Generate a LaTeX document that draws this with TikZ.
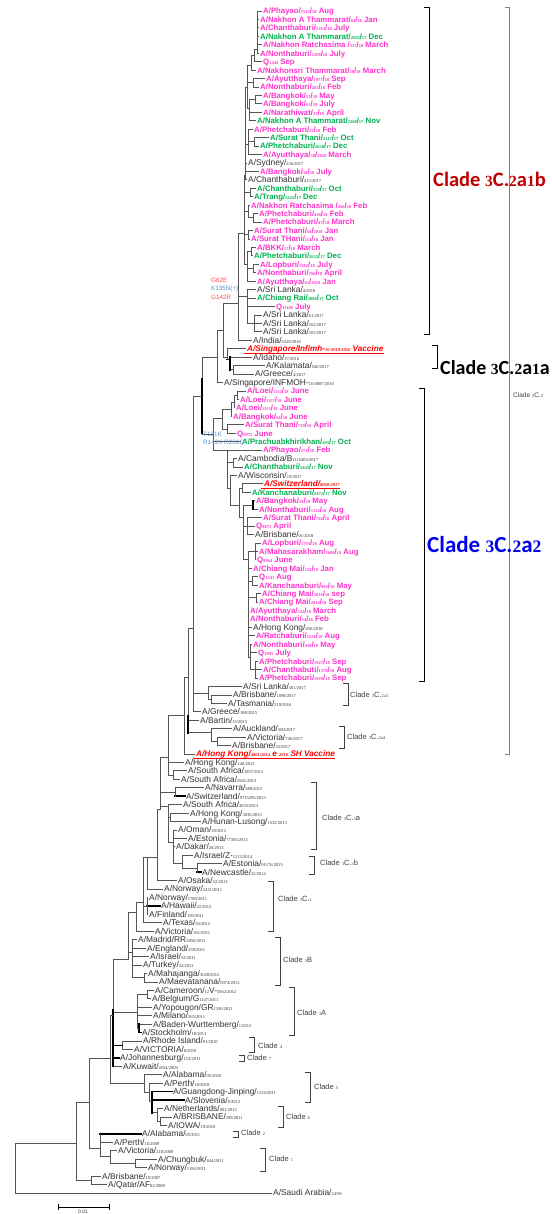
\documentclass[tikz,border=0pt]{standalone}
\usepackage{fontspec}
\setmainfont{Liberation Sans}
\newfontfamily\tnf{Liberation Serif}
\newfontfamily\carl{Carlito}
\newcommand\smn[1]{{\tnf\fontsize{4.5}{5}\selectfont #1}}
\newcommand\bdg[1]{{\tnf\fontsize{15.5}{16}\selectfont #1}}
\newcommand\bdgb[1]{{\tnf\fontsize{17.5}{18}\selectfont #1}}
\definecolor{pinkc}{HTML}{FF33CC}
\definecolor{greenc}{HTML}{00B050}
\definecolor{darkredc}{HTML}{C00000}
\definecolor{bluec}{HTML}{0000F0}
\definecolor{mutred}{HTML}{FF5050}
\definecolor{mutblue}{HTML}{4F94D4}
\definecolor{treeg}{HTML}{555555}
\definecolor{txtg}{HTML}{333333}
\definecolor{cladeg}{HTML}{404040}
\tikzset{
 br/.style={draw=treeg, line width=0.8pt, line cap=rect},
 tb/.style={draw=black, line width=1.5pt, line cap=rect},
 lab/.style={anchor=base west, inner sep=0pt, yshift=-2.9pt},
 mg/.style={lab, text=pinkc, font=\fontsize{7.8}{9}\selectfont\bfseries},
 gn/.style={lab, text=greenc, font=\fontsize{7.8}{9}\selectfont\bfseries},
 bk/.style={lab, text=txtg, font=\fontsize{8.4}{9}\selectfont},
 vc/.style={lab, text=red, font=\fontsize{8.2}{9}\selectfont\bfseries\itshape},
 brk/.style={draw=black, line width=0.9pt},
 brs/.style={draw=cladeg, line width=0.8pt},
 cl/.style={anchor=west, inner sep=0pt, text=cladeg, font=\fontsize{7.5}{9}\selectfont},
 mut/.style={anchor=west, inner sep=0pt, font=\fontsize{6.3}{7}\selectfont},
 big/.style={anchor=west, inner sep=0pt},
}
\newcommand\Lf[6][br]{%
  \coordinate (T#2) at ({#4-1},#2);
  \node[#5] (L#2) at (#4,#2) {#6};
  \draw[#1] (#3,#2) -- (T#2);}
\newcommand\Vl[4][br]{\draw[#1] (#2,#3) -- (#2,#4);}
\newcommand\Hl[4][br]{\draw[#1] (#2,#4) -- (#3,#4);}
\newcommand\Brk[4][brs]{\draw[#1] ({#2-5},#3) -- (#2,#3) -- (#2,#4) -- ({#2-5},#4);}
\begin{document}
\begin{tikzpicture}[x=1pt,y=-8.443pt]
\useasboundingbox[fill=white] (0,-0.3029) rectangle (551,143.483);
% Clade 3C.2 long line
\draw[draw=gray, line width=0.9pt] (505,0.526) -- (509,0.526) -- (509,89.0) -- (505,89.0);
% ---------- leaves ----------
\Lf{1}{257}{263}{mg}{A/Phayao/\smn{1512}/\smn{18} Aug}
\Lf{2}{257}{260}{mg}{A/Nakhon A Thammarat/\smn{64}/\smn{18} Jan}
\Lf{3}{257}{260}{mg}{A/Chanthaburi/\smn{1363}/\smn{18} July}
\Lf{4}{257}{260}{gn}{A/Nakhon A Thammarat/\smn{2626}/\smn{17} Dec}
\Lf{5}{257}{263}{mg}{A/Nakhon Ratchasima /\smn{517}/\smn{18} March}
\Lf{6}{257}{260}{mg}{A/Nonthaburi/\smn{1298}/\smn{18} July}
\Lf{7}{254}{263}{mg}{Q\smn{1444} Sep}
\Lf{8}{251}{257}{mg}{A/Nakhonsri Thammarat/\smn{30}/\smn{18} March}
\Lf{9}{253}{266}{mg}{A/Ayutthaya/\smn{1977}/\smn{18} Sep}
\Lf{10}{253}{260}{mg}{A/Nonthaburi/\smn{283}/\smn{18} Feb}
\Lf{11}{255}{263}{mg}{A/Bangkok/\smn{53}/\smn{18} May}
\Lf{12}{255}{263}{mg}{A/Bangkok/\smn{61}/\smn{18} July}
\Lf{13}{249}{263}{mg}{A/Narathiwat/\smn{32}/\smn{18} April}
\Lf{14}{249}{257}{gn}{A/Nakhon A Thammarat/\smn{2368}/\smn{17} Nov}
\Lf{15}{248}{254}{mg}{A/Phetchaburi/\smn{25}/\smn{18} Feb}
\Lf{16}{254}{270}{gn}{A/Surat Thani/\smn{2117}/\smn{17} Oct}
\Lf{17}{254}{260}{gn}{A/Phetchaburi/\smn{2638}/\smn{17} Dec}
\Lf{18}{248}{263}{mg}{A/Ayutthaya/\smn{58}/\smn{2018} March}
\Lf{19}{245}{248}{bk}{A/Sydney/\smn{236/2017}}
\Lf{20}{245}{260}{mg}{A/Bangkok/\smn{58}/\smn{18} July}
\Lf{21}{245}{248}{bk}{A/Chanthaburi/\smn{415/2017}}
\Lf{22}{250}{257}{gn}{A/Chanthaburi/\smn{559}/\smn{17} Oct}
\Lf{23}{250}{254}{gn}{A/Trang/\smn{2625}/\smn{17} Dec}
\Lf{24}{248}{251}{mg}{A/Nakhon Ratchasima /\smn{260}/\smn{18} Feb}
\Lf{25}{253}{259}{mg}{A/Phetchaburi/\smn{438}/\smn{18} Feb}
\Lf{26}{253}{263}{mg}{A/Phetchaburi/\smn{47}/\smn{18} March}
\Lf{27}{248}{254}{mg}{A/Surat Thani/\smn{68}/\smn{2018} Jan}
\Lf{28}{248}{251}{mg}{A/Surat THani/\smn{114}/\smn{18} Jan}
\Lf{29}{251}{257}{mg}{A/BKK/\smn{17}/\smn{18} March}
\Lf{30}{251}{254}{gn}{A/Phetchaburi/\smn{2632}/\smn{17} Dec}
\Lf{31}{253}{260}{mg}{A/Lopburi/\smn{1282}/\smn{18} July}
\Lf{32}{253}{257}{mg}{A/Nonthaburi/\smn{766}/\smn{18} April}
\Lf{33}{247}{257}{mg}{A/Ayutthaya/\smn{61}/\smn{2018} Jan}
\Lf{34}{247}{257}{bk}{A/Sri Lanka/\smn{4/2018}}
\Lf{35}{247}{257}{gn}{A/Chiang Rai/\smn{2080}/\smn{17} Oct}
\Lf{36}{247}{276}{mg}{Q\smn{11186} July}
\Lf{37}{254}{263}{bk}{A/Sri Lanka/\smn{61/2017}}
\Lf{38}{254}{263}{bk}{A/Sri Lanka/\smn{162/2017}}
\Lf{39}{254}{263}{bk}{A/Sri Lanka/\smn{163/2017}}
\Lf{40}{238}{253}{bk}{A/India/\smn{6329/2016}}
\Lf{41}{227}{247}{vc}{A/Singapore/Infimh-\smn{16-0019/2016} Vaccine}
\Lf{42}{230}{253}{bk}{A/Idaho/\smn{37/2016}}
\Lf{43}{233}{266}{bk}{A/Kalamata/\smn{540/2017}}
\Lf{44}{233}{255}{bk}{A/Greece/\smn{4/2017}}
\Lf{45}{217}{224}{bk}{A/Singapore/INFMOH-\smn{16-0087/2016}}
\Lf{46}{237}{247}{mg}{A/Loei/\smn{1152}/\smn{18} June}
\Lf{47}{237}{240}{mg}{A/Loei/\smn{1157}/\smn{18} June}
\Lf{48}{234}{236}{mg}{A/Loei/\smn{1153}/\smn{18} June}
\Lf{49}{231}{233}{mg}{A/Bangkok/\smn{64}/\smn{18} June}
\Lf{50}{227}{245}{mg}{A/Surat Thani/\smn{729}/\smn{18} April}
\Lf{51}{227}{237}{mg}{Q\smn{8972} June}
\Lf{52}{213}{242}{gn}{A/Prachuabkhirikhan/\smn{493}/\smn{17} Oct}
\Lf{53}{227}{263}{mg}{A/Phayao/\smn{271}/\smn{18} Feb}
\Lf{54}{233}{238}{bk}{A/Cambodia/B\smn{1116403/2017}}
\Lf{55}{233}{244}{gn}{A/Chanthaburi/\smn{2445}/\smn{17} Nov}
\Lf{56}{230}{238}{bk}{A/Wisconsin/\smn{19/2017}}
\Lf{57}{242}{264}{vc}{A/Switzerland/\smn{8060/2017}}
\Lf{58}{242}{252}{gn}{A/Kanchanaburi/\smn{2471}/\smn{17} Nov}
\Lf{59}{253}{256}{mg}{A/Bangkok/\smn{39}/\smn{18} May}
\Lf{60}{253}{259}{mg}{A/Nonthaburi/\smn{1534}/\smn{18} Aug}
\Lf{61}{247}{263}{mg}{A/Surat Thani/\smn{792}/\smn{18} April}
\Lf{62}{247}{256}{mg}{Q\smn{8073} April}
\Lf{63}{247}{255}{bk}{A/Brisbane/\smn{01/2018}}
\Lf{64}{255}{262}{mg}{A/Lopburi/\smn{1793}/\smn{18} Aug}
\Lf{65}{255}{259}{mg}{A/Mahasarakham/\smn{1608}/\smn{18} Aug}
\Lf{66}{255}{257}{mg}{Q\smn{8964} June}
\Lf{67}{248}{253}{mg}{A/Chiang Mai/\smn{122}/\smn{18} Jan}
\Lf{68}{252}{259}{mg}{Q\smn{1241} Aug}
\Lf{69}{252}{259}{mg}{A/Kanchanaburi/\smn{960}/\smn{18} May}
\Lf{70}{256}{262}{mg}{A/Chiang Mai/\smn{2016}/\smn{18} sep}
\Lf{71}{256}{259}{mg}{A/Chiang Mai/\smn{2014}/\smn{18} Sep}
\Lf{72}{248}{250}{mg}{A/Ayutthaya/\smn{532}/\smn{18} March}
\Lf{73}{248}{250}{mg}{A/Nonthaburi/\smn{14}/\smn{18} Feb}
\Lf{74}{248}{253}{bk}{A/Hong Kong/\smn{656/2018}}
\Lf{75}{248}{256}{mg}{A/Ratchaburi/\smn{1528}/\smn{18} Aug}
\Lf{76}{250}{253}{mg}{A/Nonthaburi/\smn{948}/\smn{18} May}
\Lf{77}{250}{258}{mg}{Q\smn{1095} July}
\Lf{78}{255}{259}{mg}{A/Phetchaburi/\smn{1927}/\smn{18} Sep}
\Lf{79}{255}{263}{mg}{A/Chanthabuti/\smn{1579}/\smn{18} Aug}
\Lf{80}{255}{259}{mg}{A/Phetchaburi/\smn{1929}/\smn{18} Sep}
\Lf{81}{208}{243}{bk}{A/Sri Lanka/\smn{301/2017}}
\Lf{82}{211}{233}{bk}{A/Brisbane/\smn{1098/2017}}
\Lf{83}{211}{228}{bk}{A/Tasmania/\smn{219/2016}}
\Lf{84}{193}{202}{bk}{A/Greece/\smn{188/2015}}
\Lf{85}{188}{200}{bk}{A/Bartin/\smn{15/2015}}
\Lf{86}{211}{233}{bk}{A/Auckland/\smn{500/2017}}
\Lf{87}{217}{247}{bk}{A/Victoria/\smn{746/2017}}
\Lf{88}{217}{232}{bk}{A/Brisbane/\smn{32/2017}}
\Lf{89}{184}{196}{vc}{A/Hong Kong/\smn{4801/2014} e \smn{2016} SH Vaccine}
\Lf{90}{168}{185}{bk}{A/Hong Kong/\smn{146/2013}}
\Lf{91}{173}{188}{bk}{A/South Africa/\smn{1857/2013}}
\Lf{92}{173}{181}{bk}{A/South Africa/\smn{2941/2013}}
\Lf{93}{175}{205}{bk}{A/Navarra/\smn{588/2015}}
\Lf[tb]{94}{175}{186}{bk}{A/Switzerland/\smn{9715293/2013}}
\Lf{95}{168}{183}{bk}{A/South Africa/\smn{4655/2013}}
\Lf{96}{170}{190}{bk}{A/Hong Kong/\smn{3036/2013}}
\Lf{97}{170}{202}{bk}{A/Hunan-Lusong/\smn{1532/2013}}
\Lf{98}{173}{178}{bk}{A/Oman/\smn{39/2013}}
\Lf{99}{173}{188}{bk}{A/Estonia/\smn{77365/2013}}
\Lf{100}{173}{176}{bk}{A/Dakar/\smn{20/2013}}
\Lf{101}{182}{194}{bk}{A/Israel/Z-\smn{1213/2014}}
\Lf{102}{197}{223}{bk}{A/Estonia/\smn{91176/2015}}
\Lf[tb]{103}{197}{202}{bk}{A/Newcastle/\smn{22/2014}}
\Lf{104}{157}{178}{bk}{A/Osaka/\smn{32/2013}}
\Lf{105}{147.5}{164}{bk}{A/Norway/\smn{2431/2011}}
\Lf{106}{147}{149}{bk}{A/Norway/\smn{1789/2011}}
\Lf[tb]{107}{147}{161}{bk}{A/Hawaii/\smn{22/2012}}
\Lf{108}{147}{149}{bk}{A/Finland/\smn{190/2011}}
\Lf{109}{143}{163}{bk}{A/Texas/\smn{50/2012}}
\Lf{110}{136}{155}{bk}{A/Victoria/\smn{361/2011}}
\Lf{111}{132}{138}{bk}{A/Madrid/RR\smn{5856/2011}}
\Lf{112}{132}{147}{bk}{A/England/\smn{259/2011}}
\Lf{113}{132}{150}{bk}{A/Israel/\smn{52/2011}}
\Lf{114}{132}{143}{bk}{A/Turkey/\smn{32/2011}}
\Lf{115}{144}{148}{bk}{A/Mahajanga/\smn{3628/2012}}
\Lf{116}{144}{159}{bk}{A/Maevatanana/\smn{0074/2013}}
\Lf{117}{147}{155}{bk}{A/Cameroon/\smn{12}V-\smn{5062/2012}}
\Lf{118}{147}{152}{bk}{A/Belgium/G\smn{1147/2011}}
\Lf{119}{137}{153}{bk}{A/Yopougon/GR\smn{1336/2011}}
\Lf{120}{137}{153}{bk}{A/Milano/\smn{265/2011}}
\Lf{121}{139}{153}{bk}{A/Baden-Wurttemberg/\smn{1/2012}}
\Lf[tb]{122}{139}{142}{bk}{A/Stockholm/\smn{18/2011}}
\Lf{123}{122}{143}{bk}{A/Rhode Island/\smn{01/2010}}
\Lf{124}{122}{134}{bk}{A/VICTORIA/\smn{8/2010}}
\Lf[tb]{125}{113}{120}{bk}{A/Johannesburg/\smn{153/2011}}
\Lf{126}{113}{123}{bk}{A/Kuwait/\smn{4554/2009}}
\Lf{127}{144}{163}{bk}{A/Alabama/\smn{05/2010}}
\Lf{128}{149}{164}{bk}{A/Perth/\smn{10/2010}}
\Lf[tb]{129}{152}{173}{bk}{A/Guangdong-Jinping/\smn{1334/2011}}
\Lf[tb]{130}{152}{185}{bk}{A/Slovenia/\smn{8/2012}}
\Lf{131}{157}{164}{bk}{A/Netherlands/\smn{001/2012}}
\Lf{132}{160}{173}{bk}{A/BRISBANE/\smn{299/2011}}
\Lf{133}{160}{168}{bk}{A/IOWA/\smn{19/2010}}
\Lf[tb]{134}{100}{142}{bk}{A/Alabama/\smn{03/2011}}
\Lf{135}{100}{114}{bk}{A/Perth/\smn{16/2009}}
\Lf{136}{110}{118}{bk}{A/Victoria/\smn{210/2009}}
\Lf{137}{135}{158}{bk}{A/Chungbuk/\smn{644/2011}}
\Lf{138}{135}{148}{bk}{A/Norway/\smn{1186/2011}}
\Lf{139}{91}{102}{bk}{A/Brisbane/\smn{10/2007}}
\Lf{140}{91}{108}{bk}{A/Qatar/AF\smn{82/2008}}
\Lf{141}{15}{273}{bk}{A/Saudi Arabia/\smn{24/96}}
% ---------- internal nodes ----------
% 3C.2a1b
\Vl{257}{1}{6}\Hl{254}{257}{5.5}
\Vl{254}{5.5}{7}\Hl{251}{254}{6.3}
\Vl{251}{6.3}{8}\Hl{247}{251}{7.5}
\Vl{253}{9}{10}\Hl{247}{253}{9.5}
\Vl{255}{11}{12}\Hl{249}{255}{11.5}
\Vl{249}{11.5}{14}\Hl{247}{249}{12.5}
\Vl{247}{7.5}{12.5}\Hl{245}{247}{10}
\Vl{254}{16}{17}\Hl{248}{254}{16.5}
\Vl{248}{15}{18}\Hl{245}{248}{16.8}
\Vl{245}{10}{21}\Hl{244}{245}{20.5}
\Vl{250}{22}{23}\Hl{244}{250}{22.5}
\Vl{253}{25}{26}\Hl{248}{253}{25.5}
\Vl{248}{24}{25.5}\Hl{244}{248}{24.7}
\Vl{248}{27}{28}\Hl{244}{248}{27.5}
\Vl{251}{29}{30}\Hl{247}{251}{29.5}
\Vl{253}{31}{32}\Hl{247}{253}{31.5}
\Vl{247}{29.5}{33}\Hl{244}{247}{31}
\Vl{244}{20.5}{31}\Hl{238}{244}{27.3}
\Vl{254}{37}{39}\Hl{247}{254}{38}
\Vl{247}{34}{38}\Hl{238}{247}{34.8}
\Vl{238}{27.3}{40}\Hl{223}{238}{35.6}
% 3C.2a1a
\Vl{233}{43}{44}\Hl{230}{233}{43.5}
\Vl[tb]{230}{42}{43.5}\Hl[tb]{227}{230}{42.3}
\Vl{227}{41}{42.3}\Hl{223}{227}{42}
\Vl{223}{35.6}{42}\Hl{217}{223}{38.8}
\Vl{217}{38.8}{45}\Hl{202}{217}{42}
% 3C.2a2
\Vl{237}{46}{47}\Hl{234}{237}{46.5}
\Vl{234}{46.5}{48}\Hl{231}{234}{47.3}
\Vl{231}{47.3}{49}\Hl{222}{231}{48.2}
\Vl{227}{50}{51}\Hl{222}{227}{50.5}
\Vl{222}{48.2}{50.5}\Hl{213}{222}{49.2}
\Vl{233}{54}{55}\Hl{227}{233}{54.5}
\Vl{242}{57}{58}\Hl{239}{242}{57.5}
\Vl[tb]{253}{59}{60}\Hl{243}{253}{59.5}
\Vl{247}{61}{63}\Hl{243}{247}{62}
\Vl{255}{64}{66}\Hl{248}{255}{65}
\Vl{252}{68}{69}\Hl{248}{252}{68.5}
\Vl{256}{70}{71}\Hl{248}{256}{70.5}
\Vl{255}{78}{80}\Hl{250}{255}{79}
\Vl{250}{76}{79}\Hl{248}{250}{77.5}
\Vl{248}{65}{77.5}\Hl{243}{248}{66}
\Vl{243}{59.5}{66}\Hl{239}{243}{61}
\Vl{239}{57.5}{61}\Hl{230}{239}{59.5}
\Vl{230}{56}{59.5}\Hl{227}{230}{57.5}
\Vl{227}{53}{57.5}\Hl{213}{227}{53.1}
\Vl{213}{49.2}{53.1}\Hl{202}{213}{51.2}
\Vl{202}{42}{51.2}\Vl[tb]{202}{44.5}{51}\Hl{193}{202}{46.7}
% 3C.2a3 / 3C.2a4
\Vl{211}{82}{83}\Hl{208}{211}{82.5}
\Vl{208}{81}{82.5}\Hl{193}{208}{81.8}
\Vl{193}{46.7}{84}\Hl{188}{193}{74.1}
\Vl{217}{87}{88}\Hl{211}{217}{87.5}
\Vl{211}{86}{87.5}\Hl{188}{211}{86.5}
\Vl{188}{74.1}{86.5}\Vl[tb]{188}{84.5}{86.5}\Hl{184}{188}{79.9}
\Vl{184}{79.9}{89}\Hl{168}{184}{84.4}
\Vl{173}{91}{92}\Hl{168}{173}{91.5}
\Vl{168}{84.4}{91.5}\Hl{160}{168}{89.4}
% 3C.3
\Vl{175}{93}{94}\Hl{160}{175}{93.6}
\Vl{170}{96}{97}\Hl{168}{170}{96.5}
\Vl{197}{102}{103}\Hl{182}{197}{102.6}
\Vl{182}{101}{102.6}\Hl{173}{182}{102}
\Vl{173}{98}{102}\Hl{168}{173}{99.5}
\Vl{168}{95}{99.5}\Hl{160}{168}{95.2}
\Vl{160}{89.4}{95.6}\Hl{157}{160}{95.6}
\Vl{157}{95.6}{104}\Hl{147.5}{157}{101.3}
% 3C.1
\Vl{147}{106}{108}\Hl{143}{147}{107}
\Vl{147.5}{101.3}{105}\Hl{143}{147.5}{101.3}
\Vl{143}{101.3}{109}\Hl{136}{143}{106.6}
\Vl{136}{106.6}{110}\Hl{128}{136}{107.8}
% 3B
\Vl{144}{115}{116}\Hl{132}{144}{115.5}
\Vl{132}{111}{115.5}\Hl{128}{132}{112.5}
\Vl{128}{107.8}{113.3}\Hl{113}{128}{113.3}
% 3A
\Vl{147}{117}{118}\Hl{137}{147}{117.5}
\Vl[tb]{139}{121}{122}\Hl{137}{139}{121.5}
\Vl{137}{117.5}{121.5}\Hl{113}{137}{119.6}
% 4, 7
\Vl{122}{123}{124}\Hl[tb]{113}{122}{123.5}
\Vl{113}{113.3}{126}\Vl[tb]{113}{119.3}{126}\Hl{110}{113}{120}
% 5, 6
\Vl{160}{132}{133}\Hl{157}{160}{132.5}
\Vl{157}{131}{132.5}\Hl{152}{157}{131.5}
\Vl[tb]{152}{129}{131.5}\Hl{149}{152}{130.2}
\Vl{149}{128}{130.2}\Hl{144}{149}{129.1}
\Vl{144}{127}{129.1}\Hl{110}{144}{128}
\Vl{110}{120}{128}\Hl{89}{110}{125}
% 1, 2, root
\Vl{135}{137}{138}\Hl{110}{135}{137.5}
\Vl{110}{136}{137.5}\Hl{100}{110}{136.7}
\Vl{100}{134}{136.7}\Hl{89}{100}{135.7}
\Vl{89}{125}{135.7}\Hl{76}{89}{130.3}
\Vl{91}{139}{140}\Hl{76}{91}{139.5}
\Vl{76}{130.3}{139.5}\Hl{15}{76}{135.1}
\Vl{15}{135.1}{141}
% vaccine underlines
\foreach \n in {41,57,89}{\draw[red, line width=0.6pt] ([xshift=-3pt,yshift=-1.3pt]L\n.base west) -- ([yshift=-1.3pt]L\n.base east);}
% mutation labels
\node[mut, text=mutred] (m1) at (211,32.9) {G62E};
\node[mut, text=mutblue] (m2) at (211,33.9) {K135N(+)};
\node[mut, text=mutred] (m3) at (211,34.9) {G142R};
\node[mut, text=mutblue] (m4) at (203,51.1) {T131K};
\node[mut, text=mutblue] (m5) at (203,52.1) {R142K R261Q};
% brackets
\Brk[brk]{429}{0.526}{39.26}
\Brk[brk]{437}{40.56}{43.28}
\Brk[brk]{424}{45.65}{80.36}
\Brk{348}{80.6}{83.3}
\Brk{344}{85.7}{88.3}
\Brk{316}{92.4}{100.3}
\Brk{314}{101.1}{103.3}
\Brk{273}{104.05}{109.97}
\Brk{280}{110.7}{116.4}
\Brk{294}{116.6}{122.3}
\Brk{254}{122.6}{124.4}
\Brk{244}{124.7}{125.4}
\Brk{310}{126.7}{130.3}
\Brk{283}{130.7}{133.2}
\Brk{238}{133.7}{134.4}
\Brk{265}{135.7}{138.4}
% clade labels
\node[big, text=darkredc, font=\carl\fontsize{20.5}{22}\selectfont\bfseries] (c1b) at (433,20.9) {Clade \bdg{3}C.\bdg{2}a\bdg{1}b};
\node[big, text=black, font=\carl\fontsize{20}{22}\selectfont\bfseries] (c1a) at (440,43.28) {Clade \bdg{3}C.\bdg{2}a\bdg{1}a};
\node[big, text=bluec, font=\carl\fontsize{23}{25}\selectfont\bfseries] (c2a2) at (427,64.13) {Clade \bdgb{3}C.\bdgb{2}a\bdgb{2}};
\node[cl, font=\fontsize{6.5}{8}\selectfont] (c32) at (513,46.5) {Clade \smn{3}C.\smn{2}};
\node[cl] (c2a3) at (350,82.0) {Clade \smn{3}C.\smn{2a3}};
\node[cl] (c2a4) at (347,87.0) {Clade \smn{3}C.\smn{2a4}};
\node[cl] (c3a) at (322,96.5) {Clade \smn{3}C.\smn{3}a};
\node[cl] (c3b) at (320,101.9) {Clade \smn{3}C.\smn{3}b};
\node[cl] (c31) at (278,106.2) {Clade \smn{3}C.\smn{1}};
\node[cl] (c3B) at (283,113.4) {Clade \smn{3}B};
\node[cl] (c3A) at (297,119.6) {Clade \smn{3}A};
\node[cl] (c4) at (258,123.6) {Clade \smn{4}};
\node[cl] (c7) at (247,125.0) {Clade \smn{7}};
\node[cl] (c5) at (314,128.4) {Clade \smn{5}};
\node[cl] (c6) at (286,132.0) {Clade \smn{6}};
\node[cl] (c2) at (241,133.9) {Clade \smn{2}};
\node[cl] (c1) at (269,137.0) {Clade \smn{1}};
% scale bar
\coordinate (sb1) at (58,142.66);
\coordinate (sb2) at (109,142.66);
\draw[black, line width=0.8pt] (sb1) -- (sb2);
\draw[black, line width=0.8pt] (58,142.3) -- (58,143.0);
\draw[black, line width=0.8pt] (109,142.3) -- (109,143.0);
\node[anchor=north, inner sep=0pt, text=txtg, font=\fontsize{5}{5}\selectfont] (sbl) at (83,142.95) {0.01};
\end{tikzpicture}
\end{document}
